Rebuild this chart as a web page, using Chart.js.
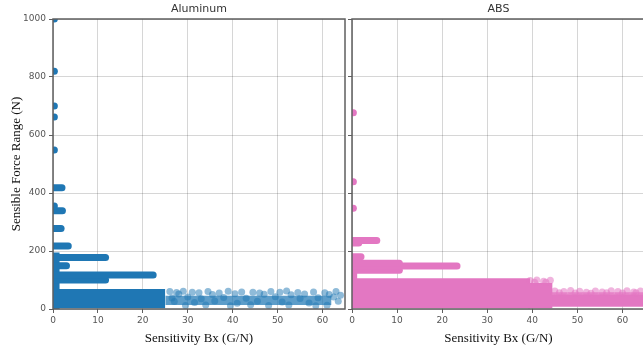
<!DOCTYPE html>
<html>
<head>
<meta charset="utf-8">
<script src="https://cdn.jsdelivr.net/npm/chart.js@4.4.1/dist/chart.umd.min.js"></script>
<style>
  html, body { margin: 0; padding: 0; background: #fff; overflow: hidden; width: 643px; height: 351px; }
  #left { position: absolute; left: 0; top: 0; }
  #right { position: absolute; left: 343px; top: 0; }
</style>
</head>
<body>
<canvas id="left" width="349" height="351"></canvas>
<canvas id="right" width="306" height="351"></canvas>
<script>
// axis ticks
const xTicks = [0, 10, 20, 30, 40, 50, 60];
const yTicks = [0, 200, 400, 600, 800, 1000];

// ---- Aluminum ----
// single points stuck on the y axis
const alDotX = [0.3, 0.3, 0.3, 0.3, 0.3, 0.3];
const alDotY = [1000, 820, 700, 662, 548, 355];
// horizontal runs of overlapping points (start / end of each run)
const alBandY  = [418, 339, 278, 217, 178, 149, 117, 100];
const alBandX0 = [0, 0, 0, 0, 0, 0, 0, 0];
const alBandX1 = [2, 2.1, 1.8, 3.4, 11.7, 3, 22.3, 11.7];
// solid areas where the points cover everything
const alBlockX0 = [0, 0];
const alBlockX1 = [1.5, 25];
const alBlockY0 = [0, 3];
const alBlockY1 = [195, 69];
// half covered area of the thinner cloud on the right
const alHazeX0 = [25];
const alHazeX1 = [62];
const alHazeY0 = [14];
const alHazeY1 = [46];
// separate points of that cloud
const alTailX = [26, 27.5, 29, 31, 32.5, 34.5, 37, 39, 42, 44.5, 46, 48.5, 50.5, 52, 54.5, 58, 60.5, 63,
                 28, 35.5, 40.5, 47, 53, 56, 61.5, 64,
                 26.5, 30, 33, 38, 43, 49.5, 55, 59, 62.5,
                 27, 31.5, 36, 41, 45.5, 51, 57, 63.5,
                 29.5, 34, 39.5, 44, 48, 52.5, 58.5, 61];
const alTailY = [60, 57, 61, 58, 56, 60, 55, 61, 59, 58, 55, 60, 58, 62, 57, 59, 56, 60,
                 52, 50, 53, 51, 49, 52, 50, 47,
                 38, 41, 35, 40, 37, 42, 36, 39, 41,
                 26, 22, 28, 20, 27, 24, 21, 27,
                 12, 14, 11, 15, 12, 14, 11, 13];

// ---- ABS ----
const absDotX = [0.3, 0.3, 0.3];
const absDotY = [677, 439, 347];
const absBandY  = [236, 228, 180, 158, 148, 134];
const absBandX0 = [0, 0, 0, 0, 0, 0];
const absBandX1 = [5.5, 1.5, 2, 10.5, 23.3, 10.5];
const absBlockX0 = [0, 0, 39, 44];
const absBlockX1 = [1.2, 39.5, 44.5, 65];
const absBlockY0 = [100, 3, 3, 8];
const absBlockY1 = [185, 106, 90, 50];
const absHazeX0 = [44];
const absHazeX1 = [65];
const absHazeY0 = [48];
const absHazeY1 = [58];
const absTailX = [39.5, 41, 42.5, 44, 40.5, 43,
                  45, 47, 48.5, 50.5, 52, 54, 55.5, 57.5, 59, 61, 62.5, 64,
                  46, 49.5, 53, 56.5, 60, 63];
const absTailY = [98, 100, 96, 99, 92, 92,
                  62, 60, 64, 61, 58, 62, 59, 63, 60, 63, 59, 62,
                  56, 55, 54, 56, 55, 56];

const AL_COLOR = '#1f77b4';
const AL_LIGHT = 'rgba(31,119,180,0.5)';
const AL_HAZE = 'rgba(31,119,180,0.72)';
const ABS_COLOR = '#e377c2';
const ABS_LIGHT = 'rgba(227,119,194,0.55)';
const ABS_HAZE = 'rgba(227,119,194,0.8)';

function pts(xs, ys) {
  return xs.map((x, i) => ({ x: x, y: ys[i] }));
}

function areaSets(x0s, x1s, y0s, y1s, color) {
  return x0s.map((x0, i) => ({
    data: [{ x: x0, y: y1s[i] }, { x: x1s[i], y: y1s[i] }],
    showLine: true, pointRadius: 0, borderWidth: 1, borderColor: 'rgba(0,0,0,0)',
    fill: { value: y0s[i] }, backgroundColor: color, clip: 0
  }));
}

function buildSets(c) {
  const sets = [];
  sets.push({ data: pts(c.tailX, c.tailY), pointRadius: 3.5, pointBackgroundColor: c.light,
              pointBorderWidth: 0, clip: 0 });
  sets.push({ data: pts(c.dotX, c.dotY), pointRadius: 3.5, pointBackgroundColor: c.color,
              pointBorderWidth: 0, clip: 0 });
  c.bandY.forEach((y, i) => {
    sets.push({ data: [{ x: c.bandX0[i], y: y }, { x: c.bandX1[i], y: y }],
                showLine: true, pointRadius: 0, borderWidth: 7, borderColor: c.color,
                borderCapStyle: 'round', clip: 0 });
  });
  sets.push(...areaSets(c.hx0, c.hx1, c.hy0, c.hy1, c.haze));
  sets.push(...areaSets(c.bx0, c.bx1, c.by0, c.by1, c.color));
  return sets;
}

// frame (all four spines) + panel title
const framePlugin = {
  id: 'frame',
  afterDatasetsDraw(chart, args, opts) {
    const { ctx, chartArea: a } = chart;
    ctx.save();
    ctx.strokeStyle = '#5f5f5f';
    ctx.lineWidth = 1.5;
    ctx.strokeRect(a.left, a.top, a.right - a.left, a.bottom - a.top);
    ctx.fillStyle = '#333';
    ctx.font = '11px "DejaVu Sans"';
    ctx.textAlign = 'center';
    ctx.textBaseline = 'middle';
    ctx.fillText(opts.text, (a.left + a.right) / 2, 9);
    ctx.restore();
  }
};

function makeOptions(title, showYLabels, yWidth, padRight) {
  return {
    responsive: false,
    animation: false,
    events: [],
    layout: { padding: { top: 19, left: 0, right: padRight, bottom: 0 } },
    plugins: {
      legend: { display: false },
      tooltip: { enabled: false },
      frame: { text: title }
    },
    scales: {
      x: {
        type: 'linear', min: 0, max: 65,
        afterBuildTicks: s => { s.ticks = xTicks.map(v => ({ value: v })); },
        afterFit: s => { s.height = 42; },
        border: { display: false },
        grid: { color: 'rgba(0,0,0,0.16)', lineWidth: 1, tickColor: '#5f5f5f', tickLength: 4 },
        ticks: { color: '#555', font: { family: 'DejaVu Sans', size: 9 }, padding: 2, maxRotation: 0,
                 callback: v => String(v) },
        title: { display: true, text: 'Sensitivity Bx (G/N)', color: '#111',
                 font: { family: 'Liberation Serif', size: 13 }, padding: { top: 0, bottom: 5 } }
      },
      y: {
        type: 'linear', min: 0, max: 1000,
        afterBuildTicks: s => { s.ticks = yTicks.map(v => ({ value: v })); },
        afterFit: s => { s.width = yWidth; },
        border: { display: false },
        grid: { color: 'rgba(0,0,0,0.16)', lineWidth: 1, tickColor: '#5f5f5f', tickLength: 4 },
        ticks: { display: showYLabels, color: '#555', font: { family: 'DejaVu Sans', size: 9 }, padding: 3,
                 callback: v => String(v) },
        title: { display: showYLabels, text: 'Sensible Force Range (N)', color: '#111',
                 font: { family: 'Liberation Serif', size: 13 }, padding: { top: 9, bottom: 0 } }
      }
    }
  };
}

new Chart(document.getElementById('left'), {
  type: 'scatter',
  data: { datasets: buildSets({
    color: AL_COLOR, light: AL_LIGHT, haze: AL_HAZE,
    dotX: alDotX, dotY: alDotY,
    bandY: alBandY, bandX0: alBandX0, bandX1: alBandX1,
    bx0: alBlockX0, bx1: alBlockX1, by0: alBlockY0, by1: alBlockY1,
    hx0: alHazeX0, hx1: alHazeX1, hy0: alHazeY0, hy1: alHazeY1,
    tailX: alTailX, tailY: alTailY }) },
  options: makeOptions('Aluminum', true, 53, 3),
  plugins: [framePlugin]
});

new Chart(document.getElementById('right'), {
  type: 'scatter',
  data: { datasets: buildSets({
    color: ABS_COLOR, light: ABS_LIGHT, haze: ABS_HAZE,
    dotX: absDotX, dotY: absDotY,
    bandY: absBandY, bandX0: absBandX0, bandX1: absBandX1,
    bx0: absBlockX0, bx1: absBlockX1, by0: absBlockY0, by1: absBlockY1,
    hx0: absHazeX0, hx1: absHazeX1, hy0: absHazeY0, hy1: absHazeY1,
    tailX: absTailX, tailY: absTailY }) },
  options: makeOptions('ABS', false, 9, 4),
  plugins: [framePlugin]
});
</script>
</body>
</html>
